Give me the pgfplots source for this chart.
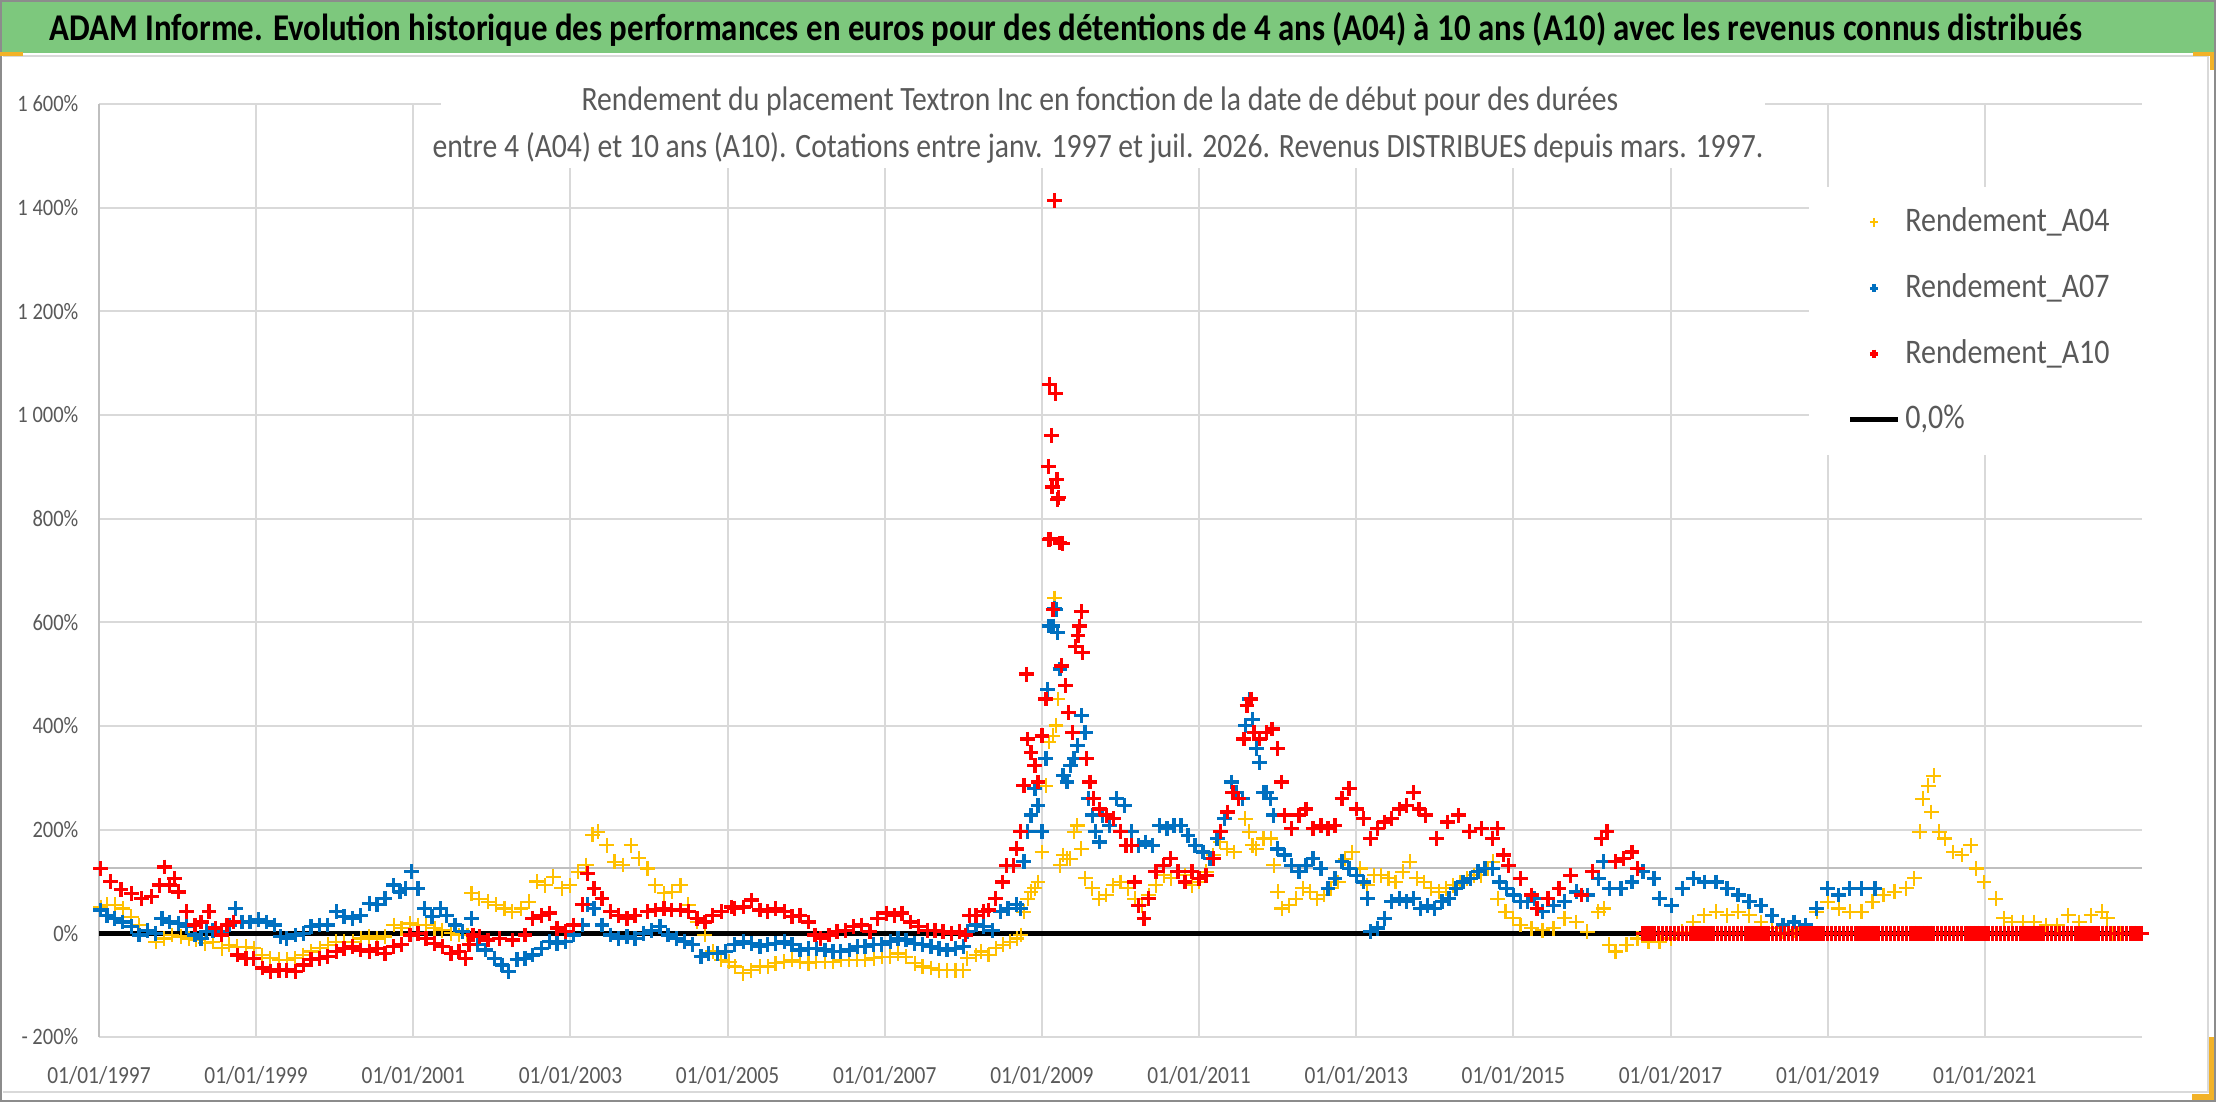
\documentclass[border=0pt]{standalone}
\usepackage{fontspec}
\setmainfont{Carlito}[FakeStretch=0.87]
\usepackage{pgfplots}
\pgfplotsset{compat=1.18}
\definecolor{titlegreen}{RGB}{125,200,125}
\definecolor{cA}{RGB}{255,192,0}
\definecolor{cB}{RGB}{0,112,192}
\definecolor{cC}{RGB}{255,0,0}
\definecolor{gridgray}{RGB}{217,217,217}
\definecolor{axisgray}{RGB}{191,191,191}
\definecolor{textgray}{RGB}{89,89,89}
\definecolor{handle}{RGB}{242,178,40}
\definecolor{framegray}{RGB}{140,140,140}
\begin{document}
\begin{tikzpicture}
\useasboundingbox (0,0) rectangle (22.16,11.02);
\fill[white] (0,0) rectangle (22.16,11.02);
\fill[titlegreen] (0,10.49) rectangle (22.16,11.02);
\draw[gridgray, line width=0.5pt] (0.03,10.46) -- (22.08,10.46);
\draw[gridgray, line width=0.5pt] (0.03,0.10) -- (22.08,0.10) -- (22.08,10.46);
\draw[framegray, line width=0.6pt] (0.01,0.01) rectangle (22.15,11.01);
\fill[handle] (0,10.46) rectangle (0.23,10.50);
\fill[handle] (21.93,10.46) rectangle (22.13,10.50);
\fill[handle] (22.10,10.32) rectangle (22.14,10.50);
\fill[handle] (22.09,0.02) rectangle (22.14,0.65);
\fill[handle] (21.92,0.02) rectangle (22.14,0.08);
\node[anchor=base, inner sep=0pt, font=\fontsize{10.75pt}{12pt}\selectfont\bfseries] at (10.66,10.61) {ADAM Informe. Evolution historique des performances en euros pour des détentions de 4 ans (A04) à 10 ans (A10) avec les revenus connus distribués};
\begin{axis}[
  at={(0.99cm,0.65cm)}, anchor=south west,
  width=20.43cm, height=9.33cm, scale only axis,
  xmin=1997, xmax=2023, ymin=-200, ymax=1600,
  scaled x ticks=false, scaled y ticks=false,
  xtick={1997,1999,2001,2003,2005,2007,2009,2011,2013,2015,2017,2019,2021},
  xticklabels={01/01/1997,01/01/1999,01/01/2001,01/01/2003,01/01/2005,01/01/2007,01/01/2009,01/01/2011,01/01/2013,01/01/2015,01/01/2017,01/01/2019,01/01/2021},
  ytick={-200,0,200,400,600,800,1000,1200,1400,1600},
  yticklabels={- 200\%,0\%,200\%,400\%,600\%,800\%,1 000\%,1 200\%,1 400\%,1 600\%},
  grid=major, grid style={gridgray, line width=0.55pt},
  axis lines=left, axis line style={-},
  x axis line style={gridgray, line width=0.55pt},
  y axis line style={axisgray, line width=0.6pt},
  major tick length=0pt,
  xticklabel style={font=\fontsize{7pt}{8pt}\selectfont, text=textgray, inner sep=0pt, anchor=north, yshift=-0.29cm},
  yticklabel style={font=\fontsize{6.7pt}{8pt}\selectfont, text=textgray, inner sep=0pt, anchor=east, xshift=-0.2cm},
  legend image code/.code={\draw[mark repeat=2,mark phase=2,#1,mark size=1.2pt] plot coordinates {(0cm,0cm) (0.24cm,0cm) (0.48cm,0cm)};},
  legend style={at={(0.8365,0.912)}, anchor=north west, draw=none, fill=white,
     inner xsep=0.39cm, inner ysep=0.14cm, row sep=0.225cm, column sep=0.05cm,
     nodes={inner xsep=0pt},
     font=\fontsize{9.8pt}{11pt}\selectfont, text=textgray},
  legend cell align=left,
]
\addplot[forget plot, black, line width=1.35pt] coordinates {(1997,0) (2023,0)};
\addplot[forget plot, axisgray, line width=0.6pt] coordinates {(1997,126) (2023,126)};
% A04
\addplot[only marks, mark=+, mark size=2.1pt, cA, line width=0.6pt] coordinates {
(1997.02,51) (1997.10,55) (1997.20,55) (1997.30,48) (1997.41,32) (1997.51,16) (1997.62,6) (1997.72,-16) (1997.83,-10) (1997.93,-3)
(1998.04,-6) (1998.14,-10) (1998.24,-13) (1998.35,-19) (1998.45,-16) (1998.56,-29) (1998.66,-22) (1998.76,-26) (1998.87,-26) (1998.97,-29)
(1999.08,-42) (1999.18,-48) (1999.29,-51) (1999.39,-51) (1999.50,-48) (1999.60,-42) (1999.70,-35) (1999.81,-29) (1999.91,-22)
(2000.02,-16) (2000.12,-16) (2000.23,-16) (2000.33,-10) (2000.44,-6) (2000.54,-10) (2000.64,-6) (2000.75,16) (2000.85,10) (2000.96,19)
(2001.06,16) (2001.16,16) (2001.27,10) (2001.37,6) (2001.48,0) (2001.58,-3) (2001.69,-3) (2001.74,77) (2001.84,67) (2001.95,61)
(2002.05,55) (2002.16,48) (2002.26,42) (2002.37,48) (2002.47,61) (2002.57,100) (2002.68,93) (2002.78,109) (2002.89,87) (2002.99,93)
(2003.10,119) (2003.20,132) (2003.28,190) (2003.35,196) (2003.46,170) (2003.56,138) (2003.67,132) (2003.77,170) (2003.87,145) (2003.98,125)
(2004.08,93) (2004.19,77) (2004.29,80) (2004.40,93) (2004.50,55) (2004.61,22) (2004.71,-3) (2004.81,-35) (2004.92,-51) (2005.02,-55)
(2005.09,-64) (2005.20,-77) (2005.30,-71) (2005.41,-64) (2005.51,-64) (2005.61,-58) (2005.72,-55) (2005.82,-51) (2005.92,-55)
(2006.03,-58) (2006.13,-55) (2006.24,-55) (2006.34,-55) (2006.44,-51) (2006.55,-51) (2006.65,-51) (2006.75,-51) (2006.86,-48) (2006.96,-45)
(2007.07,-45) (2007.17,-39) (2007.27,-45) (2007.38,-58) (2007.48,-64) (2007.59,-67) (2007.69,-71) (2007.79,-71) (2007.90,-71) (2008.00,-71)
(2008.05,-48) (2008.16,-42) (2008.23,-35) (2008.32,-42) (2008.41,-29) (2008.50,-22) (2008.59,-16) (2008.68,-10) (2008.73,-3) (2008.77,42)
(2008.82,67) (2008.86,80) (2008.91,87) (2008.95,99) (2009.00,157) (2009.05,285) (2009.09,369) (2009.14,381) (2009.16,647) (2009.18,401)
(2009.20,452) (2009.23,131) (2009.27,151) (2009.32,144) (2009.36,144) (2009.41,196) (2009.45,208) (2009.50,163) (2009.55,106) (2009.64,87)
(2009.73,67) (2009.82,74) (2009.91,93) (2010.00,99) (2010.09,87) (2010.18,67) (2010.27,54) (2010.36,74) (2010.45,93) (2010.55,112)
(2010.64,106) (2010.73,119) (2010.82,112) (2010.91,93) (2011.00,99) (2011.09,119) (2011.18,151) (2011.27,176) (2011.36,163) (2011.45,157)
(2011.55,260) (2011.59,221) (2011.64,196) (2011.68,170) (2011.73,163) (2011.82,183) (2011.91,183) (2011.95,131) (2012.00,80) (2012.05,48)
(2012.14,54) (2012.23,67) (2012.32,87) (2012.41,80) (2012.50,67) (2012.59,74) (2012.68,87) (2012.77,99) (2012.86,144) (2012.95,157)
(2013.05,125) (2013.14,93) (2013.23,112) (2013.32,112) (2013.41,106) (2013.50,99) (2013.59,119) (2013.68,138) (2013.77,106) (2013.86,99)
(2013.95,87) (2014.05,80) (2014.14,87) (2014.23,93) (2014.32,99) (2014.41,106) (2014.50,112) (2014.59,112) (2014.68,125) (2014.74,138)
(2014.80,67) (2014.90,42) (2015.00,29) (2015.09,16) (2015.23,10) (2015.37,6) (2015.51,10) (2015.65,29) (2015.80,22) (2015.94,3)
(2016.08,42) (2016.15,48) (2016.22,-22) (2016.30,-35) (2016.44,-22) (2016.58,-10) (2016.72,-16) (2016.86,-16) (2017.01,-10) (2017.15,3)
(2017.29,22) (2017.43,35) (2017.58,42) (2017.72,35) (2017.86,42) (2018.00,35) (2018.15,22) (2018.29,10) (2018.43,3) (2018.57,6)
(2018.72,10) (2018.86,42) (2019.00,61) (2019.14,48) (2019.28,42) (2019.43,42) (2019.57,61) (2019.71,74) (2019.85,80) (2020.00,87)
(2020.10,106) (2020.17,196) (2020.21,260) (2020.28,285) (2020.32,234) (2020.35,304) (2020.42,196) (2020.49,183) (2020.60,157) (2020.71,151)
(2020.82,170) (2020.89,125) (2020.99,99) (2021.14,67) (2021.24,29) (2021.35,22) (2021.49,22) (2021.63,22) (2021.78,16) (2021.92,16)
(2022.06,35) (2022.20,22) (2022.35,35) (2022.49,42) (2022.56,29) (2022.63,0) (2022.72,0) (2022.81,0) (2022.90,0) (2022.99,0)
};
\addlegendentry{Rendement\_A04}
% A07
\addplot[only marks, mark=+, mark size=2.1pt, cB, line width=0.95pt] coordinates {
(1997.02,45) (1997.10,35) (1997.20,29) (1997.30,22) (1997.41,13) (1997.51,-3) (1997.62,6) (1997.72,0) (1997.80,29) (1997.90,22)
(1998.01,19) (1998.11,13) (1998.22,-3) (1998.30,-10) (1998.37,3) (1998.45,6) (1998.56,3) (1998.66,16) (1998.74,48) (1998.82,22)
(1998.92,22) (1999.03,26) (1999.13,22) (1999.23,16) (1999.31,-6) (1999.39,-10) (1999.50,-3) (1999.60,0) (1999.70,13) (1999.81,16)
(1999.91,16) (2000.02,42) (2000.12,32) (2000.23,29) (2000.33,35) (2000.44,58) (2000.54,55) (2000.64,67) (2000.75,93) (2000.83,80)
(2000.90,87) (2000.98,119) (2001.06,87) (2001.14,48) (2001.24,32) (2001.35,48) (2001.42,35) (2001.53,16) (2001.63,3) (2001.74,29)
(2001.82,-22) (2001.92,-32) (2002.03,-48) (2002.13,-61) (2002.21,-74) (2002.32,-51) (2002.42,-48) (2002.52,-42) (2002.63,-29) (2002.73,-16)
(2002.83,-19) (2002.94,-16) (2003.04,-3) (2003.15,16) (2003.22,55) (2003.30,48) (2003.40,16) (2003.51,-3) (2003.61,-10) (2003.72,-6)
(2003.82,-10) (2003.93,0) (2004.03,6) (2004.14,13) (2004.24,-3) (2004.35,-10) (2004.45,-16) (2004.55,-22) (2004.66,-45) (2004.76,-39)
(2004.87,-39) (2004.97,-35) (2005.09,-22) (2005.20,-16) (2005.30,-19) (2005.41,-26) (2005.51,-22) (2005.61,-19) (2005.72,-16) (2005.82,-22)
(2005.92,-32) (2006.03,-29) (2006.13,-29) (2006.24,-32) (2006.34,-35) (2006.44,-35) (2006.55,-32) (2006.65,-26) (2006.75,-26) (2006.86,-22)
(2006.96,-22) (2007.07,-16) (2007.17,-10) (2007.27,-13) (2007.38,-19) (2007.48,-22) (2007.59,-26) (2007.69,-29) (2007.79,-32) (2007.90,-29)
(2008.00,-26) (2008.05,3) (2008.16,16) (2008.26,13) (2008.37,6) (2008.47,42) (2008.57,48) (2008.68,55) (2008.73,48) (2008.77,138)
(2008.82,196) (2008.86,228) (2008.91,279) (2008.95,247) (2009.00,196) (2009.05,337) (2009.07,471) (2009.09,593) (2009.14,593) (2009.16,627)
(2009.18,625) (2009.20,580) (2009.23,510) (2009.27,304) (2009.32,292) (2009.36,324) (2009.41,337) (2009.45,362) (2009.50,420) (2009.55,388)
(2009.59,260) (2009.64,228) (2009.68,196) (2009.73,176) (2009.77,228) (2009.86,208) (2009.95,260) (2010.05,247) (2010.14,196) (2010.23,170)
(2010.32,176) (2010.41,170) (2010.50,208) (2010.59,202) (2010.68,208) (2010.77,208) (2010.86,189) (2010.95,170) (2011.05,157) (2011.14,144)
(2011.23,183) (2011.32,221) (2011.41,292) (2011.48,272) (2011.55,260) (2011.59,401) (2011.64,452) (2011.68,413) (2011.73,356) (2011.77,330)
(2011.82,272) (2011.86,272) (2011.91,260) (2011.95,228) (2012.00,163) (2012.09,151) (2012.18,131) (2012.27,119) (2012.36,131) (2012.45,144)
(2012.55,125) (2012.64,87) (2012.73,106) (2012.82,138) (2012.91,125) (2013.00,112) (2013.09,99) (2013.14,67) (2013.18,3) (2013.27,10)
(2013.36,29) (2013.45,61) (2013.55,67) (2013.64,61) (2013.73,67) (2013.82,48) (2013.91,54) (2014.00,48) (2014.09,61) (2014.18,67)
(2014.27,87) (2014.36,99) (2014.45,106) (2014.55,119) (2014.64,125) (2014.73,125) (2014.82,99) (2014.91,87) (2015.00,74) (2015.09,61)
(2015.18,61) (2015.27,67) (2015.37,42) (2015.51,54) (2015.65,61) (2015.80,80) (2015.94,74) (2016.08,106) (2016.15,138) (2016.22,87)
(2016.37,87) (2016.51,99) (2016.65,119) (2016.79,106) (2016.86,67) (2017.01,54) (2017.15,87) (2017.29,106) (2017.43,99) (2017.58,99)
(2017.72,87) (2017.86,74) (2018.00,61) (2018.15,54) (2018.29,35) (2018.43,16) (2018.57,22) (2018.72,16) (2018.86,48) (2019.00,87)
(2019.14,74) (2019.28,87) (2019.43,87) (2019.60,87) (2019.70,0) (2019.90,0) (2020.10,0) (2020.30,0) (2020.50,0) (2020.70,0)
(2020.90,0) (2021.10,0) (2021.30,0) (2021.50,0) (2021.70,0) (2021.90,0) (2022.10,0) (2022.30,0) (2022.50,0) (2022.70,0) (2022.90,0)
};
\addlegendentry{Rendement\_A07}
% A10
\addplot[only marks, mark=+, mark size=2.1pt, cC, line width=0.95pt] coordinates {
(1997.02,125) (1997.15,100) (1997.28,84) (1997.41,77) (1997.54,67) (1997.67,71) (1997.77,93) (1997.83,128) (1997.90,93) (1997.96,106)
(1998.01,80) (1998.11,42) (1998.22,16) (1998.30,22) (1998.40,42) (1998.48,10) (1998.56,-3) (1998.63,16) (1998.71,22) (1998.76,-42)
(1998.87,-48) (1998.97,-48) (1999.08,-67) (1999.18,-74) (1999.29,-71) (1999.39,-71) (1999.50,-74) (1999.60,-61) (1999.70,-51) (1999.81,-48)
(1999.91,-45) (2000.02,-35) (2000.12,-29) (2000.23,-26) (2000.33,-32) (2000.44,-35) (2000.54,-29) (2000.64,-39) (2000.75,-26) (2000.85,-22)
(2000.96,-3) (2001.06,0) (2001.16,-10) (2001.27,-19) (2001.37,-26) (2001.48,-39) (2001.58,-35) (2001.66,-48) (2001.71,-22) (2001.76,-3)
(2001.84,-6) (2001.95,-13) (2002.10,-10) (2002.26,-13) (2002.42,-3) (2002.52,29) (2002.63,35) (2002.73,39) (2002.83,10) (2002.94,3)
(2003.04,16) (2003.15,55) (2003.22,116) (2003.30,87) (2003.40,67) (2003.51,42) (2003.61,35) (2003.72,29) (2003.82,35) (2003.98,42)
(2004.08,45) (2004.19,48) (2004.29,45) (2004.40,45) (2004.50,42) (2004.61,29) (2004.71,22) (2004.81,35) (2004.92,42) (2005.05,51)
(2005.09,48) (2005.20,51) (2005.30,64) (2005.41,45) (2005.51,42) (2005.61,48) (2005.72,42) (2005.82,32) (2005.92,35) (2006.03,22)
(2006.11,-3) (2006.18,-10) (2006.29,-3) (2006.39,3) (2006.50,6) (2006.60,13) (2006.70,16) (2006.81,3) (2006.91,29) (2007.02,39)
(2007.12,35) (2007.22,39) (2007.33,22) (2007.43,13) (2007.54,6) (2007.64,6) (2007.74,3) (2007.85,0) (2007.95,3) (2008.03,-3)
(2008.08,35) (2008.16,35) (2008.26,42) (2008.32,45) (2008.41,67) (2008.50,99) (2008.55,131) (2008.64,131) (2008.68,163) (2008.73,196)
(2008.77,285) (2008.80,500) (2008.82,375) (2008.86,349) (2008.91,324) (2008.95,292) (2009.00,381) (2009.05,452) (2009.08,901) (2009.09,760)
(2009.10,1059) (2009.11,761) (2009.12,961) (2009.13,861) (2009.14,625) (2009.16,1414) (2009.17,1042) (2009.19,875) (2009.20,837) (2009.21,841)
(2009.23,753) (2009.25,516) (2009.26,752) (2009.30,478) (2009.34,426) (2009.39,388) (2009.43,554) (2009.46,574) (2009.48,593) (2009.50,621)
(2009.52,542) (2009.57,337) (2009.61,292) (2009.66,260) (2009.73,240) (2009.82,228) (2009.91,221) (2010.00,196) (2010.07,170) (2010.14,170)
(2010.18,99) (2010.23,54) (2010.30,29) (2010.36,67) (2010.45,119) (2010.55,131) (2010.64,144) (2010.73,119) (2010.82,99) (2010.91,119)
(2011.00,106) (2011.09,112) (2011.18,144) (2011.27,196) (2011.36,234) (2011.43,272) (2011.50,260) (2011.57,375) (2011.61,439) (2011.66,452)
(2011.70,388) (2011.77,375) (2011.86,388) (2011.93,394) (2012.00,356) (2012.05,292) (2012.09,228) (2012.18,202) (2012.27,228) (2012.36,240)
(2012.45,202) (2012.55,208) (2012.64,202) (2012.73,208) (2012.82,260) (2012.91,279) (2013.00,240) (2013.09,221) (2013.18,183) (2013.27,202)
(2013.36,215) (2013.45,221) (2013.55,240) (2013.64,247) (2013.73,272) (2013.80,240) (2013.88,228) (2014.02,183) (2014.16,215) (2014.30,228)
(2014.44,196) (2014.59,202) (2014.73,183) (2014.80,202) (2014.87,151) (2014.94,131) (2015.09,106) (2015.23,74) (2015.30,48) (2015.44,67)
(2015.58,87) (2015.73,112) (2015.87,74) (2016.01,119) (2016.12,183) (2016.19,196) (2016.30,138) (2016.40,144) (2016.51,157) (2016.58,125)
(2016.65,0) (2016.70,0) (2016.75,0) (2016.80,0) (2016.85,0) (2016.90,0) (2016.95,0) (2017.00,0) (2017.05,0) (2017.10,0)
(2017.15,0) (2017.20,0) (2017.25,0) (2017.30,0) (2017.35,0) (2017.40,0) (2017.45,0) (2017.50,0) (2017.55,0) (2017.60,0)
(2017.65,0) (2017.70,0) (2017.75,0) (2017.80,0) (2017.85,0) (2017.90,0) (2017.95,0) (2018.00,0) (2018.05,0) (2018.10,0)
(2018.15,0) (2018.20,0) (2018.25,0) (2018.30,0) (2018.35,0) (2018.40,0) (2018.45,0) (2018.50,0) (2018.55,0) (2018.60,0)
(2018.65,0) (2018.70,0) (2018.75,0) (2018.80,0) (2018.85,0) (2018.90,0) (2018.95,0) (2019.00,0) (2019.05,0) (2019.10,0)
(2019.15,0) (2019.20,0) (2019.25,0) (2019.30,0) (2019.35,0) (2019.40,0) (2019.45,0) (2019.50,0) (2019.55,0) (2019.60,0)
(2019.65,0) (2019.70,0) (2019.75,0) (2019.80,0) (2019.85,0) (2019.90,0) (2019.95,0) (2020.00,0) (2020.05,0) (2020.10,0)
(2020.15,0) (2020.20,0) (2020.25,0) (2020.30,0) (2020.35,0) (2020.40,0) (2020.45,0) (2020.50,0) (2020.55,0) (2020.60,0)
(2020.65,0) (2020.70,0) (2020.75,0) (2020.80,0) (2020.85,0) (2020.90,0) (2020.95,0) (2021.00,0) (2021.05,0) (2021.10,0)
(2021.15,0) (2021.20,0) (2021.25,0) (2021.30,0) (2021.35,0) (2021.40,0) (2021.45,0) (2021.50,0) (2021.55,0) (2021.60,0)
(2021.65,0) (2021.70,0) (2021.75,0) (2021.80,0) (2021.85,0) (2021.90,0) (2021.95,0) (2022.00,0) (2022.05,0) (2022.10,0)
(2022.15,0) (2022.20,0) (2022.25,0) (2022.30,0) (2022.35,0) (2022.40,0) (2022.45,0) (2022.50,0) (2022.55,0) (2022.60,0)
(2022.65,0) (2022.70,0) (2022.75,0) (2022.80,0) (2022.85,0) (2022.90,0) (2022.95,0) (2022.99,0)
};
\addlegendentry{Rendement\_A10}
\addlegendimage{black, line width=1.35pt}
\addlegendentry{0,0\%}
\end{axis}
\fill[white] (4.41,9.34) rectangle (17.65,10.44);
\node[anchor=base, inner sep=0pt, text=textgray, font=\fontsize{9.7pt}{11pt}\selectfont] at (11.0,9.91) {Rendement du placement Textron Inc en fonction de la date de début pour des durées};
\node[anchor=base, inner sep=0pt, text=textgray, font=\fontsize{9.7pt}{11pt}\selectfont] at (10.98,9.44) {entre 4 (A04) et 10 ans (A10). Cotations entre janv. 1997 et juil. 2026. Revenus DISTRIBUES depuis mars. 1997.};
\end{tikzpicture}
\end{document}
